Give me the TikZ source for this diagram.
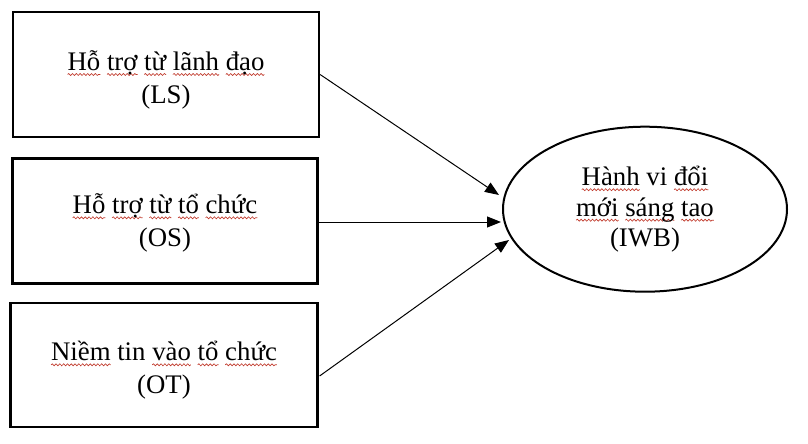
\documentclass[tikz,border=0pt]{standalone}
\usepackage{fontspec}
\setmainfont{Liberation Serif}
\usetikzlibrary{arrows.meta,decorations.pathmorphing}
\definecolor{spell}{HTML}{C0392B}
\newsavebox\sqbox
\newlength\sqlen
\newcommand\sqw[1]{\sbox\sqbox{#1}\setlength\sqlen{\wd\sqbox}%
  \rlap{\tikz[baseline=0pt,x=1pt,y=1pt]{\useasboundingbox (0,0);
    \draw[overlay, spell, line width=0.65pt, decorate,
      decoration={snake, amplitude=1pt, segment length=3.8pt}]
      (0,-4) -- (\sqlen,-4);}}\usebox\sqbox}
\begin{document}
\begin{tikzpicture}[x=1pt,y=-1pt,
  txt/.style={font=\fontsize{26.8}{32.5}\selectfont, align=center, text=black},
  factor/.style={txt, draw, line width=2.2pt, rectangle, inner sep=0pt},
  conn/.style={line width=1pt, -{Triangle[length=14pt,width=11pt]}}]
\useasboundingbox (0,0) rectangle (808,444);
\node[factor, minimum width=306pt, minimum height=125pt,
  text height=62pt, text depth=5pt] (ls) at (166,74.5)
  {\sqw{Hỗ} \sqw{trợ} \sqw{từ} \sqw{lãnh} \sqw{đạo}\\(LS)};
\node[factor, minimum width=305pt, minimum height=125pt,
  text height=56pt, text depth=5.4pt] (os) at (165,221)
  {\sqw{Hỗ} \sqw{trợ} \sqw{từ} \sqw{tổ} \sqw{chức}\\(OS)};
\node[factor, minimum width=307pt, minimum height=124pt,
  text height=62pt, text depth=5.4pt] (ot) at (164,365)
  {\sqw{Niềm} tin \sqw{vào} \sqw{tổ} \sqw{chức}\\(OT)};
\draw[line width=2pt] (645,209.2) ellipse [x radius=142, y radius=82.5];
\node[txt, font=\fontsize{26.8}{30.5}\selectfont,
  text height=80pt, text depth=4.6pt] (iwb) at (645,209)
  {\sqw{Hành} vi \sqw{đổi}\\\sqw{mới} \sqw{sáng} \sqw{tao}\\(IWB)};
\coordinate (t1) at (499,195);
\coordinate (t2) at (501,222);
\coordinate (t3) at (509,240);
\draw[conn] (ls.east) -- (t1);
\draw[conn] ([xshift=-2pt,yshift=-1pt]os.east) -- (t2);
\draw[conn] ([xshift=1pt,yshift=-11pt]ot.east) -- (t3);
\end{tikzpicture}
\end{document}
